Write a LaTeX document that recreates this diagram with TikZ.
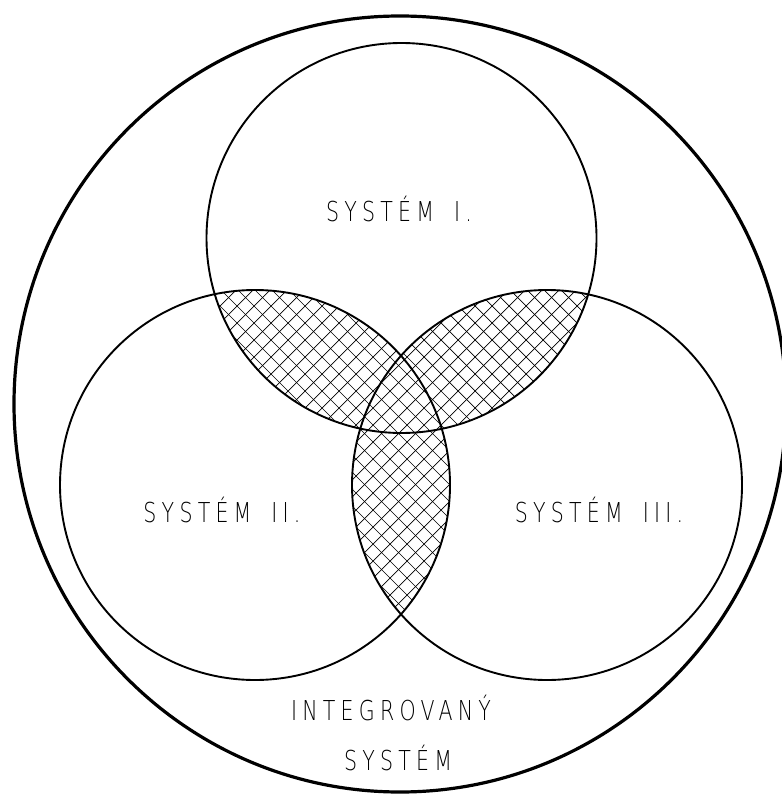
\documentclass[tikz,border=0pt]{standalone}
\usepackage{fontspec}
\newfontfamily\cadfont{DejaVu Sans ExtraLight}[FakeStretch=0.75,LetterSpace=19]
\begin{document}
\begin{tikzpicture}[x=1pt,y=-1pt,
  venn/.style={line width=1.9pt},
  outerring/.style={line width=3.2pt},
  hatchline/.style={line width=0.7pt},
  lbl/.style={inner sep=0pt,anchor=base,font=\cadfont\fontsize{27.4}{30}\selectfont}]
\useasboundingbox (0,0) rectangle (781,794);
\fill[white] (0,0) rectangle (781,794);
\coordinate (c1) at (401.5,238);
\coordinate (c2) at (255,485);
\coordinate (c3) at (547,485);
\coordinate (c0) at (400,404);
\newcommand\hatchlines{%
  \foreach \a in {-800,-783,...,1600}{
    \draw[hatchline] (\a,0) -- ++(800,800);
    \draw[hatchline] (\a,0) -- ++(-800,800);
  }}
% I and II
\begin{scope}
  \clip (c1) circle[radius=195];
  \clip (c2) circle[radius=195];
  \hatchlines
\end{scope}
% I and III, outside II
\begin{scope}
  \clip (c1) circle[radius=195];
  \clip (c3) circle[radius=195];
  \begin{scope}[even odd rule]
    \clip (-100,-100) rectangle (900,900) (c2) circle[radius=195];
    \hatchlines
  \end{scope}
\end{scope}
% II and III, outside I
\begin{scope}
  \clip (c2) circle[radius=195];
  \clip (c3) circle[radius=195];
  \begin{scope}[even odd rule]
    \clip (-100,-100) rectangle (900,900) (c1) circle[radius=195];
    \hatchlines
  \end{scope}
\end{scope}
\draw[venn] (c1) circle[radius=195];
\draw[venn] (c2) circle[radius=195];
\draw[venn] (c3) circle[radius=195];
\draw[outerring] (c0) circle[x radius=386,y radius=388];
\node[lbl] (s1) at (399,222) {SYSTÉM\hspace{20pt}I.};
\node[lbl] (s2) at (222,522) {SYSTÉM\hspace{20pt}II.};
\node[lbl] (s3) at (599,522) {SYSTÉM\hspace{20pt}III.};
\node[lbl] (i1) at (391,720) {INTEGROVANÝ};
\node[lbl] (i2) at (398,770) {SYSTÉM};
\end{tikzpicture}
\end{document}
